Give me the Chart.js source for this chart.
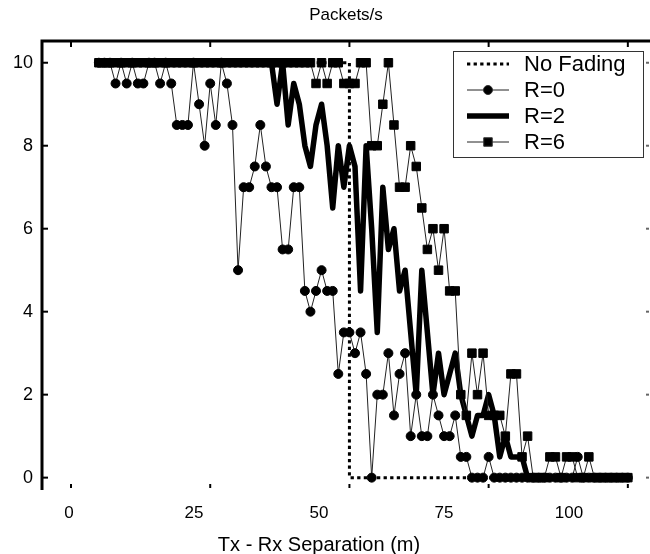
<!DOCTYPE html>
<html lang="en">
<head>
  <meta charset="UTF-8">
  <title>Packets/s</title>
  <script src="https://cdn.jsdelivr.net/npm/chart.js"></script>
  <style>
    html, body { margin: 0; padding: 0; background: #fff; }
  </style>
</head>
<body>
  <canvas id="chart" width="650" height="554"></canvas>

  <script>
    // Tx - Rx separation in metres, one sample per metre
    const separation = [
      5, 6, 7, 8, 9, 10, 11, 12, 13, 14, 15, 16, 17, 18, 19, 20, 21, 22, 23, 24,
      25, 26, 27, 28, 29, 30, 31, 32, 33, 34, 35, 36, 37, 38, 39, 40, 41, 42, 43, 44,
      45, 46, 47, 48, 49, 50, 51, 52, 53, 54, 55, 56, 57, 58, 59, 60, 61, 62, 63, 64,
      65, 66, 67, 68, 69, 70, 71, 72, 73, 74, 75, 76, 77, 78, 79, 80, 81, 82, 83, 84,
      85, 86, 87, 88, 89, 90, 91, 92, 93, 94, 95, 96, 97, 98, 99, 100
    ];

    const noFadingX = [5, 50, 50, 100];
    const noFadingY = [10, 10, 0, 0];

    const r0 = [
      10, 10, 10, 9.5, 10, 9.5, 10, 9.5, 9.5, 10, 10, 9.5, 10, 9.5,
      8.5, 8.5, 8.5, 10, 9, 8, 9.5, 8.5, 10, 9.5, 8.5,
      5, 7, 7, 7.5, 8.5, 7.5, 7, 7, 5.5, 5.5, 7, 7,
      4.5, 4, 4.5, 5, 4.5, 4.5, 2.5, 3.5, 3.5, 3, 3.5, 2.5,
      0, 2, 2, 3, 1.5, 2.5, 3, 1, 2, 1, 1, 2,
      1.5, 1, 1, 1.5, 0.5, 0.5, 0, 0, 0, 0.5,
      0, 0, 0, 0, 0, 0, 0, 0, 0, 0, 0, 0, 0, 0, 0,
      0.5,
      0, 0, 0, 0, 0, 0, 0, 0, 0
    ];

    const r2 = [
      10, 10, 10, 10, 10, 10, 10, 10, 10, 10, 10, 10, 10, 10, 10, 10,
      10, 10, 10, 10, 10, 10, 10, 10, 10, 10, 10, 10, 10, 10, 10, 10,
      9, 10, 8.5, 9.5, 9, 8, 7.5, 8.5, 9, 8, 6.5, 8,
      7, 8, 7.5, 4.5, 8, 6, 3.5, 7, 5.5, 6, 4.5, 5,
      3.5, 2, 5, 3.5, 2, 3, 2, 2.5, 3, 2, 1.5, 1,
      1.5, 1.5, 2, 1.5, 0.5, 1, 0.5, 0.5, 0.5, 0,
      0, 0, 0, 0, 0, 0, 0, 0, 0, 0, 0, 0, 0, 0, 0, 0, 0, 0
    ];

    const r6 = [
      10, 10, 10, 10, 10, 10, 10, 10, 10, 10, 10, 10, 10, 10, 10, 10, 10, 10, 10, 10,
      10, 10, 10, 10, 10, 10, 10, 10, 10, 10, 10, 10, 10, 10, 10, 10, 10, 10, 10,
      9.5, 10, 9.5, 10, 10, 9.5, 9.5, 9.5, 10, 10,
      8, 8, 9, 10, 8.5, 7, 7, 8, 7.5, 6.5, 5.5, 6,
      5, 6, 4.5, 4.5, 2, 1.5, 3, 2, 3, 1.5, 1.5, 1.5,
      1, 2.5, 2.5, 0.5, 1, 0, 0, 0, 0.5, 0.5, 0, 0.5,
      0.5, 0, 0, 0.5, 0, 0, 0, 0, 0, 0, 0
    ];

    const xTicks = [0, 25, 50, 75, 100];
    const yTicks = [0, 2, 4, 6, 8, 10];
    const legendLabels = ['No Fading', 'R=0', 'R=2', 'R=6'];

    const FONT = "'Liberation Sans', Arial, Helvetica, sans-serif";

    const pts = (xs, ys) => xs.map((v, i) => ({ x: v, y: ys[i] }));

    // box, inward ticks, axis title and legend, drawn the way the old plot has them
    const framePlugin = {
      id: 'frame',
      afterDraw(chart) {
        const { ctx, chartArea: a, scales } = chart;
        const sx = scales.x, sy = scales.y, lab = scales.xLabels;
        const seg = (x1, y1, x2, y2) => {
          ctx.beginPath(); ctx.moveTo(x1, y1); ctx.lineTo(x2, y2); ctx.stroke();
        };
        ctx.save();
        ctx.strokeStyle = '#000';
        ctx.lineWidth = 3;
        ctx.beginPath();
        ctx.moveTo(a.left - 1, a.bottom + 2);
        ctx.lineTo(a.left - 1, a.top - 1);
        ctx.lineTo(a.right + 1, a.top - 1);
        ctx.stroke();

        ctx.lineWidth = 2;
        xTicks.forEach(v => {
          const px = sx.getPixelForValue(v);
          seg(px, a.top, px, a.top + 5);
          seg(px, a.bottom, px, a.bottom - 4);
        });
        yTicks.forEach(v => {
          const py = sy.getPixelForValue(v);
          seg(a.left, py, a.left + 5, py);
        });
        ctx.strokeStyle = '#666';
        yTicks.forEach(v => {
          const py = sy.getPixelForValue(v);
          seg(a.right, py, a.right - 3, py);
        });

        // x axis title
        ctx.fillStyle = '#000';
        ctx.font = '20px ' + FONT;
        ctx.textAlign = 'center';
        ctx.textBaseline = 'middle';
        ctx.fillText('Tx - Rx Separation (m)', lab.getPixelForValue(50), 545);

        // legend
        const lw = 190, lh = 106;
        const lx = a.right - 6 - lw, ly = a.top + 9;
        ctx.fillStyle = '#fff';
        ctx.fillRect(lx, ly, lw, lh);
        ctx.strokeStyle = '#333';
        ctx.lineWidth = 1;
        ctx.strokeRect(lx + 0.5, ly + 0.5, lw, lh);

        const ds = chart.data.datasets;
        legendLabels.forEach((name, i) => {
          const d = ds[i];
          const cy = ly + 13 + i * 26;
          const x1 = lx + 14, x2 = lx + 56;
          ctx.save();
          ctx.strokeStyle = d.borderColor;
          ctx.lineWidth = d.borderWidth;
          ctx.setLineDash(d.borderDash || []);
          seg(x1, cy, x2, cy);
          ctx.restore();
          if (d.pointRadius > 0) {
            Chart.helpers.drawPoint(ctx, {
              pointStyle: d.pointStyle, radius: d.pointRadius, borderWidth: 1
            }, (x1 + x2) / 2, cy);
          }
          ctx.fillStyle = '#000';
          ctx.font = '22px ' + FONT;
          ctx.textAlign = 'left';
          ctx.textBaseline = 'middle';
          ctx.fillText(name, lx + 71, cy + 1);
        });
        ctx.restore();
      }
    };

    const ctx = document.getElementById('chart').getContext('2d');

    new Chart(ctx, {
      type: 'line',
      data: {
        datasets: [
          {
            label: 'No Fading',
            data: pts(noFadingX, noFadingY),
            borderColor: '#000',
            borderWidth: 3,
            borderDash: [3.3, 3.3],
            pointRadius: 0,
            order: 3
          },
          {
            label: 'R=0',
            data: pts(separation, r0),
            borderColor: '#222',
            borderWidth: 1,
            pointStyle: 'circle',
            pointRadius: 4.5,
            pointBackgroundColor: '#000',
            pointBorderColor: '#000',
            order: 1
          },
          {
            label: 'R=2',
            data: pts(separation, r2),
            borderColor: '#000',
            borderWidth: 5.5,
            borderJoinStyle: 'round',
            pointRadius: 0,
            order: 2
          },
          {
            label: 'R=6',
            data: pts(separation, r6),
            borderColor: '#222',
            borderWidth: 1,
            pointStyle: 'rect',
            pointRadius: 6,
            pointBackgroundColor: '#000',
            pointBorderColor: '#000',
            order: 0
          }
        ]
      },
      options: {
        responsive: false,
        animation: false,
        devicePixelRatio: 1,
        events: [],
        layout: { autoPadding: false, padding: { top: 0, right: 1, bottom: 0, left: 0 } },
        elements: { line: { tension: 0 } },
        plugins: {
          legend: { display: false },
          tooltip: { enabled: false },
          title: {
            display: true,
            text: 'Packets/s',
            fullSize: false,
            color: '#000',
            font: { family: FONT, size: 17, weight: 'normal' },
            padding: { top: 5, bottom: 16.6 }
          }
        },
        scales: {
          x: {
            type: 'linear',
            min: -5.03,
            max: 103.8,
            display: false
          },
          xLabels: {
            type: 'linear',
            position: 'bottom',
            min: -5.2,
            max: 116,
            afterBuildTicks: s => { s.ticks = xTicks.map(v => ({ value: v })); },
            afterFit: s => { s.height = 66; },
            grid: { display: false, drawTicks: false },
            border: { display: false },
            ticks: {
              color: '#000',
              padding: 15,
              maxRotation: 0,
              font: { family: FONT, size: 17 }
            }
          },
          y: {
            type: 'linear',
            min: -0.25,
            max: 10.5,
            afterBuildTicks: s => { s.ticks = yTicks.map(v => ({ value: v })); },
            afterFit: s => { s.width = 43; },
            grid: { display: false, drawTicks: false },
            border: { display: false },
            ticks: {
              color: '#000',
              padding: 10,
              font: { family: FONT, size: 18 }
            }
          }
        }
      },
      plugins: [framePlugin]
    });
  </script>
</body>
</html>
